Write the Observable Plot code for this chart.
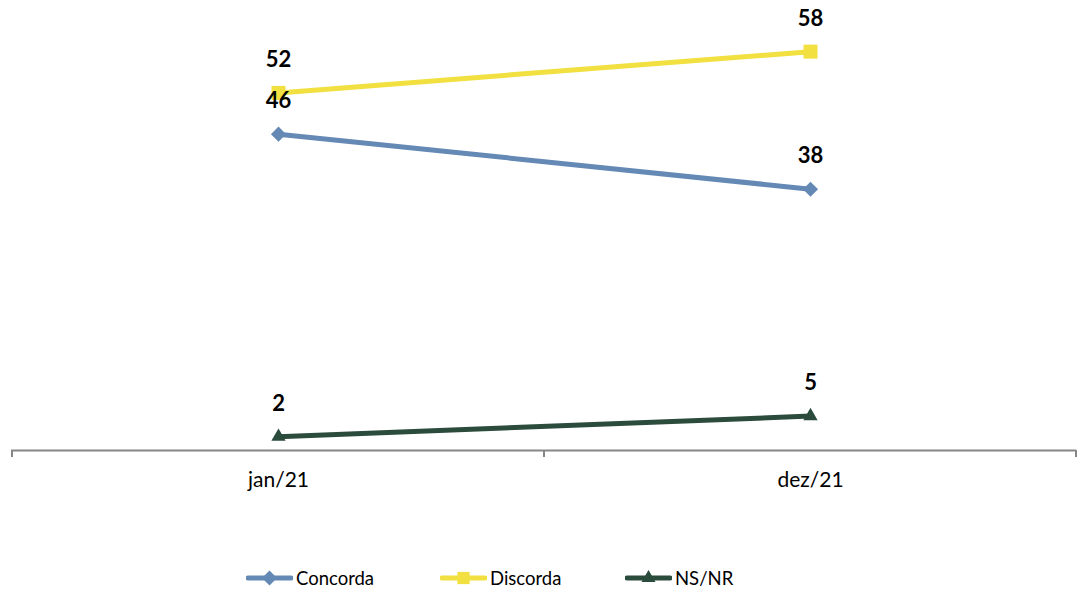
<!DOCTYPE html>
<html>
<head>
<meta charset="utf-8">
<script src="https://cdn.jsdelivr.net/npm/d3@7"></script>
<script src="https://cdn.jsdelivr.net/npm/@observablehq/plot@0.6"></script>
<style>
  html, body { margin: 0; padding: 0; background: #fff; }
  body { width: 1080px; height: 591px; overflow: hidden; font-family: Lato, "Open Sans", sans-serif; }
  #legend { display: flex; position: absolute; top: 566px; left: 0; width: 1080px; height: 24px; align-items: center; font-size: 18.5px; color: #000; }
  .item { position: absolute; display: flex; align-items: center; }
  .item svg { display: block; margin-right: 3px; }
</style>
</head>
<body>
<div id="chart"></div>
<div id="legend"></div>
<script>
const months = ["jan/21", "dez/21"];
const seriesNames = ["Concorda", "Discorda", "NS/NR"];
const concorda = [46, 38];
const discorda = [52, 58];
const nsnr = [2, 5];

const colors = {"Concorda": "#6589B5", "Discorda": "#F1E03F", "NS/NR": "#2B4B3C"};
const values = {"Concorda": concorda, "Discorda": discorda, "NS/NR": nsnr};

const rows = seriesNames.flatMap(s => months.map((m, i) => ({series: s, month: m, value: values[s][i]})));

const boundaryTicks = (index, scales, vals, dims) => {
  const x = scales.x;
  const bwRaw = x.bandwidth;
  const bw = typeof bwRaw === "function" ? bwRaw() : bwRaw;
  const y0 = dims.height - dims.marginBottom;
  const g = d3.create("svg:g");
  const xs = months.map(m => x(m));
  xs.push(x(months[months.length - 1]) + bw);
  g.selectAll("line").data(xs).join("line")
    .attr("x1", d => d).attr("x2", d => d)
    .attr("y1", y0).attr("y2", y0 + 7)
    .attr("stroke", "#868686").attr("stroke-width", 2);
  return g.node();
};

const symbolFor = {"Concorda": "diamond2", "Discorda": "square", "NS/NR": "triangle"};
const rFor = {"Concorda": 6.8, "Discorda": 7.9, "NS/NR": 5.3};

const chart = Plot.plot({
  width: 1080,
  height: 510,
  marginLeft: 11,
  marginRight: 4,
  marginTop: 3,
  marginBottom: 60,
  style: {fontFamily: "Lato, 'Open Sans', sans-serif", background: "#fff"},
  x: {type: "band", domain: months, padding: 0, axis: null, label: null},
  y: {domain: [0, 65], axis: null},
  marks: [
    Plot.ruleY([0], {stroke: "#868686", strokeWidth: 2}),
    boundaryTicks,
    Plot.axisX({tickSize: 0, tickPadding: 22, fontSize: 21, fill: "#000", label: null}),
    ...seriesNames.map(s => Plot.line(rows.filter(d => d.series === s), {
      x: "month", y: "value", stroke: colors[s], strokeWidth: 5, strokeLinecap: "butt"
    })),
    ...seriesNames.map(s => Plot.dot(rows.filter(d => d.series === s), {
      x: "month", y: "value", symbol: () => symbolFor[s], r: rFor[s], fill: colors[s], stroke: "none"
    })),
    Plot.text(rows, {
      x: "month", y: "value", text: d => String(d.value), dy: -33,
      fontSize: 22, fontWeight: "bold", fill: "#000"
    })
  ]
});
document.getElementById("chart").appendChild(chart);

// Legend
const legend = document.getElementById("legend");
const legendX = {"Concorda": 246, "Discorda": 440, "NS/NR": 625};
seriesNames.forEach(s => {
  const item = document.createElement("div");
  item.className = "item";
  item.style.left = legendX[s] + "px";
  const svg = d3.create("svg").attr("width", 47).attr("height", 20);
  svg.append("line").attr("x1", 2).attr("x2", 45).attr("y1", 10).attr("y2", 10)
    .attr("stroke", colors[s]).attr("stroke-width", 5).attr("stroke-linecap", "round");
  const sym = {"Concorda": d3.symbolDiamond2, "Discorda": d3.symbolSquare, "NS/NR": d3.symbolTriangle}[s];
  const size = {"Concorda": 144, "Discorda": 150, "NS/NR": 85}[s];
  svg.append("path").attr("d", d3.symbol(sym, size)()).attr("transform", "translate(23.5,10)").attr("fill", colors[s]);
  item.appendChild(svg.node());
  const span = document.createElement("span");
  span.textContent = s;
  item.appendChild(span);
  legend.appendChild(item);
});
</script>
</body>
</html>
